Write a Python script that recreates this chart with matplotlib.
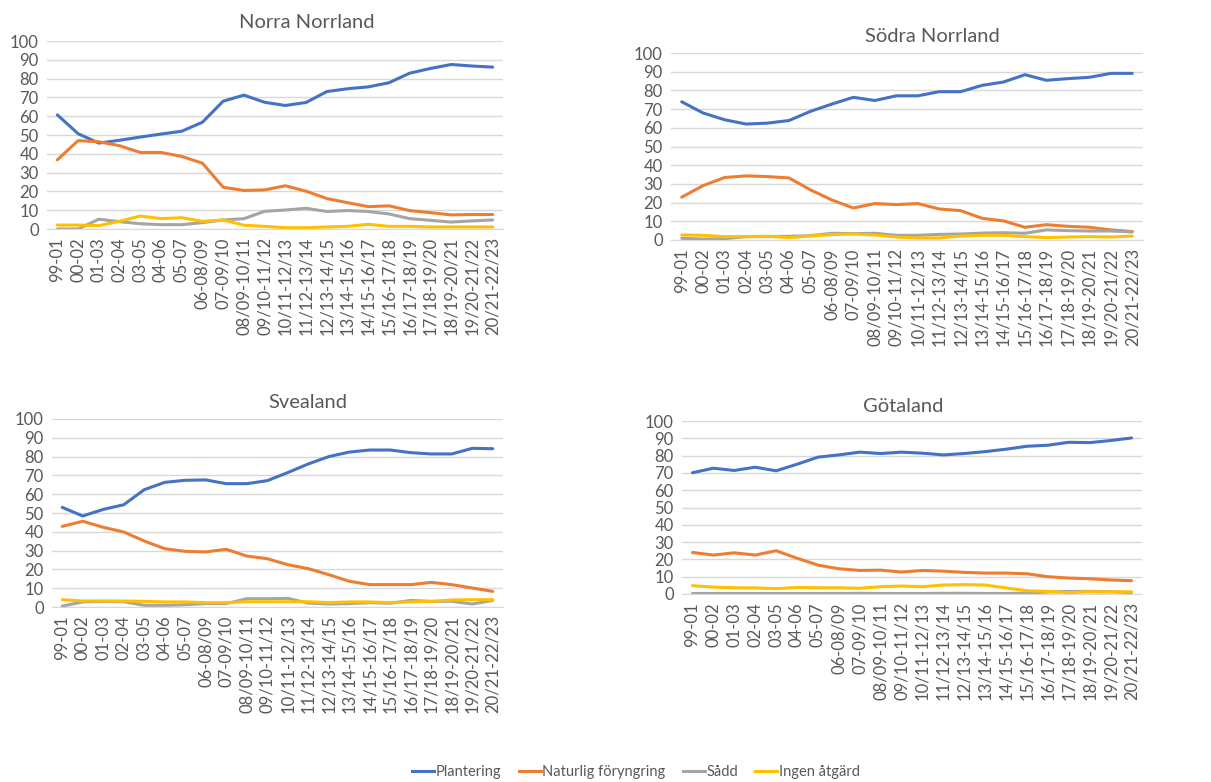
import matplotlib
matplotlib.use("Agg")
import matplotlib.pyplot as plt
from matplotlib.lines import Line2D

plt.rcParams['font.family'] = ['Lato', 'DejaVu Sans']

periods = ["99-01", "00-02", "01-03", "02-04", "03-05", "04-06", "05-07",
           "06-08/09", "07-09/10", "08/09-10/11", "09/10-11/12", "10/11-12/13",
           "11/12-13/14", "12/13-14/15", "13/14-15/16", "14/15-16/17",
           "15/16-17/18", "16/17-18/19", "17/18-19/20", "18/19-20/21",
           "19/20-21/22", "20/21-22/23"]

series_names = ["Plantering", "Naturlig föryngring", "Sådd", "Ingen åtgärd"]
colors = ["#4472C4", "#ED7D31", "#A5A5A5", "#FFC000"]

# Norra Norrland
nn_plant = [60.7, 50.7, 45.7, 47.2, 48.9, 50.5, 52.0, 56.8, 68.0, 71.2, 67.4,
            65.7, 67.3, 73.1, 74.6, 75.6, 77.8, 82.9, 85.4, 87.5, 86.7, 86.1]
nn_nat = [36.8, 47.0, 46.4, 44.3, 40.7, 40.7, 38.6, 35.0, 22.2, 20.5, 20.8,
          23.0, 20.1, 16.2, 14.0, 11.9, 12.3, 9.8, 8.7, 7.5, 7.7, 7.7]
nn_sadd = [0.0, 0.0, 5.2, 3.9, 2.8, 2.3, 2.3, 3.4, 4.8, 5.5, 9.4,
           10.1, 11.0, 9.3, 9.8, 9.3, 8.0, 5.5, 4.6, 3.7, 4.3, 4.8]
nn_ingen = [2.1, 2.1, 1.8, 4.1, 6.9, 5.5, 6.0, 4.1, 4.8, 2.0, 1.4,
            0.7, 0.7, 1.1, 1.4, 2.5, 1.4, 1.4, 1.1, 1.1, 1.1, 1.1]

# Södra Norrland
sn_plant = [73.9, 67.9, 64.3, 62.0, 62.5, 63.9, 68.8, 72.7, 76.3, 74.6, 77.1,
            77.1, 79.3, 79.3, 82.7, 84.5, 88.4, 85.4, 86.3, 87.0, 89.1, 89.1]
sn_nat = [22.9, 29.1, 33.4, 34.3, 33.9, 33.2, 26.8, 21.4, 17.1, 19.5, 18.9,
          19.5, 16.6, 15.7, 11.6, 10.2, 6.8, 8.2, 7.3, 6.8, 5.4, 4.5]
sn_sadd = [0.9, 0.5, 0.7, 1.8, 1.8, 2.0, 2.3, 3.6, 3.4, 3.6, 2.5,
           2.5, 3.0, 3.2, 3.7, 3.9, 3.6, 5.4, 5.0, 4.8, 4.8, 4.3]
sn_ingen = [2.7, 2.5, 1.8, 1.8, 2.0, 1.3, 2.1, 2.9, 3.2, 2.7, 1.6,
            1.1, 1.1, 2.1, 2.5, 2.5, 1.8, 1.3, 1.6, 1.8, 1.6, 2.1]

# Svealand
sv_plant = [53.0, 48.4, 51.9, 54.4, 62.4, 66.3, 67.4, 67.6, 65.6, 65.6, 67.2,
            71.5, 76.1, 80.0, 82.4, 83.5, 83.5, 82.1, 81.4, 81.4, 84.4, 84.2]
sv_nat = [42.9, 45.6, 42.4, 39.9, 35.1, 31.0, 29.6, 29.3, 30.7, 27.1, 25.7,
          22.5, 20.4, 17.2, 13.7, 11.9, 11.9, 11.9, 13.1, 11.9, 10.1, 8.3]
sv_sadd = [0.5, 2.7, 3.0, 2.8, 0.9, 0.9, 1.2, 1.8, 1.8, 4.4, 4.4,
           4.6, 2.1, 1.6, 1.8, 2.3, 2.0, 3.5, 3.0, 3.0, 1.6, 3.5]
sv_ingen = [3.9, 3.2, 3.2, 3.2, 3.0, 2.7, 2.7, 2.3, 2.3, 2.8, 2.8,
            2.8, 2.8, 2.3, 2.7, 2.7, 2.3, 2.7, 3.0, 3.7, 3.9, 3.9]

# Götaland
go_plant = [70.1, 72.7, 71.4, 73.3, 71.2, 75.0, 79.1, 80.4, 82.0, 81.2, 82.0,
            81.4, 80.4, 81.2, 82.3, 83.7, 85.4, 86.0, 87.7, 87.5, 88.7, 90.2]
go_nat = [24.0, 22.5, 23.8, 22.5, 25.0, 20.7, 16.7, 14.6, 13.6, 13.8, 12.7,
          13.6, 13.2, 12.5, 12.1, 12.1, 11.7, 10.0, 9.2, 8.8, 8.1, 7.7]
go_sadd = [0.3, 0.3, 0.3, 0.3, 0.3, 0.3, 0.3, 0.3, 0.4, 0.3, 0.3,
           0.3, 0.4, 0.4, 0.3, 0.3, 0.5, 1.2, 1.5, 1.5, 1.3, 0.8]
go_ingen = [4.8, 4.0, 3.6, 3.5, 3.1, 3.8, 3.6, 3.6, 3.3, 4.2, 4.6,
            4.2, 5.2, 5.4, 5.2, 3.5, 1.9, 1.5, 0.8, 1.3, 1.3, 1.3]

regions = [
    ("Norra Norrland", [nn_plant, nn_nat, nn_sadd, nn_ingen]),
    ("Södra Norrland", [sn_plant, sn_nat, sn_sadd, sn_ingen]),
    ("Svealand", [sv_plant, sv_nat, sv_sadd, sv_ingen]),
    ("Götaland", [go_plant, go_nat, go_sadd, go_ingen]),
]

W, H = 1211, 782
fig = plt.figure(figsize=(W / 100, H / 100), dpi=100)

# plot boxes in pixels: left, right, top, bottom, and title centre x, y
boxes = [
    (47, 503, 41, 229, 307, 22),
    (671, 1143, 53, 240, 932, 37),
    (52, 503, 419, 607, 308, 402),
    (682, 1142, 421, 594, 903, 407),
]

text_color = "#595959"
x = list(range(len(periods)))

for (title, data), (l, r, t, b, tx, ty) in zip(regions, boxes):
    ax = fig.add_axes([l / W, 1 - b / H, (r - l) / W, (b - t) / H])
    for vals, c in zip(data, colors):
        ax.plot(x, vals, color=c, lw=2.2, solid_capstyle="round")
    ax.set_xlim(-0.5, len(periods) - 0.5)
    ax.set_ylim(0, 100)
    ax.set_yticks(range(0, 101, 10))
    ax.set_xticks(x)
    ax.set_xticklabels(periods, rotation=90)
    ax.grid(axis="y", color="#D9D9D9", lw=1)
    ax.set_axisbelow(True)
    for s in ["top", "right", "left"]:
        ax.spines[s].set_visible(False)
    ax.spines["bottom"].set_color("#D9D9D9")
    ax.tick_params(length=0, labelsize=12, colors=text_color, pad=6)
    fig.text(tx / W, 1 - ty / H, title, ha="center", va="center",
             fontsize=14.5, color=text_color)

handles = [Line2D([], [], color=c, lw=2.2) for c in colors]
fig.legend(handles, series_names, loc="center", bbox_to_anchor=(636 / W, 1 - 772 / H),
           ncol=4, frameon=False, fontsize=10.5, handlelength=1.5, handletextpad=0.1,
           columnspacing=1.2, labelcolor=text_color)

fig.savefig("out.png", dpi=100, facecolor="white")
